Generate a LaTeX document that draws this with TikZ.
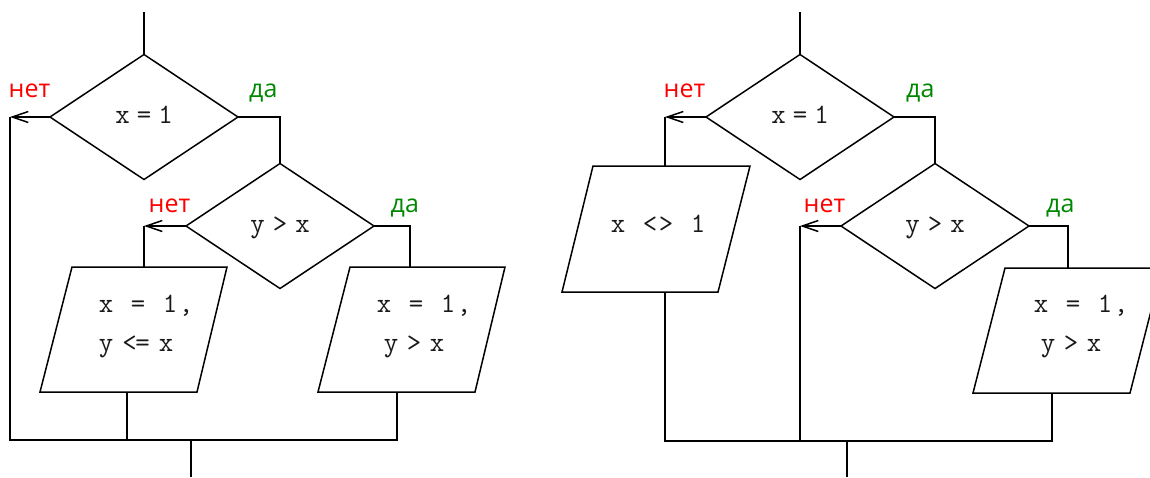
\documentclass[tikz,border=0pt]{standalone}
\usepackage{fontspec}
\newfontfamily\labfont{Open Sans}
\usetikzlibrary{arrows.meta,shapes.geometric}
\definecolor{nored}{RGB}{255,0,0}
\definecolor{yesgreen}{RGB}{0,135,0}
\newcommand\cb[1]{\makebox[16pt]{#1}}
\newcommand\gp[1]{\hspace{#1pt}}
\newcommand\monofont{\fontsize{28}{32}\selectfont\ttfamily\addfontfeatures{FakeBold=0.6}}
\tikzset{
  ln/.style={line width=1.5pt, black},
  dia/.style={ln, draw, shape=diamond, minimum width=188pt, minimum height=125pt,
    inner sep=0pt, outer sep=0pt, text height=12pt, text depth=0pt,
    font=\monofont, text=black!90},
  mtext/.style={anchor=base west, inner sep=0pt, outer sep=0pt, font=\monofont, text=black!90},
  notxt/.style={anchor=base west, inner sep=0pt, font=\labfont\fontsize{25}{28}\selectfont, text=nored},
  yestxt/.style={anchor=base west, inner sep=0pt, font=\labfont\fontsize{25}{28}\selectfont, text=yesgreen},
  arr/.style={ln, -{Straight Barb[length=16pt,width=11pt,line width=1.5pt]}},
}
\begin{document}
\begin{tikzpicture}[x=1pt,y=-1pt]
\useasboundingbox (0,0) rectangle (1150,477);

% ================= left diagram =================
\node[dia] (d1) at (144,117) {\cb{x}\gp{5.5}\cb{=}\gp{5.5}\cb{1}};
\node[dia] (d2) at (280,226) {\cb{y}\gp{6.5}\cb{>}\gp{6.5}\cb{x}};

\coordinate (s1) at (144,12);
\coordinate (c1) at (10,117);
\coordinate (c2) at (144,226);
\coordinate (p1t) at (144,267);
\coordinate (p2t) at (410,267);
\coordinate (p1b) at (127,392);
\coordinate (p2b) at (397,392);
\coordinate (bl1) at (10,440);
\coordinate (br1) at (397,440);
\coordinate (e1a) at (191,440);
\coordinate (e1b) at (191,477);

\draw[ln] (40,392) -- (197,392) -- (227,267) -- (72,267) -- cycle;
\draw[ln] (318,392) -- (475,392) -- (505,267) -- (350,267) -- cycle;

\node[mtext] (t1a) at (98,312) {\cb{x}\cb{}\cb{=}\cb{}\cb{1}\cb{,}};
\node[mtext] (t1b) at (98,351) {\cb{y}\gp{9}\makebox[13pt]{<}\makebox[13pt]{=}\gp{9}\cb{x}};
\node[mtext] (t2a) at (376,312) {\cb{x}\cb{}\cb{=}\cb{}\cb{1}\cb{,}};
\node[mtext] (t2b) at (383,351) {\cb{y}\gp{7}\cb{>}\gp{7}\cb{x}};

\draw[ln] (s1) -- (d1.north);
\draw[arr] (d1.west) -- (c1);
\draw[ln] (c1) -- (bl1) -- (br1) -- (p2b);
\draw[ln] (d1.east) -| (d2.north);
\draw[arr] (d2.west) -- (c2);
\draw[ln] (c2) -- (p1t);
\draw[ln] (d2.east) -| (p2t);
\draw[ln] (p1b) -- (p1b |- bl1);
\draw[ln] (e1a) -- (e1b);

\node[notxt] (n1) at (8.5,97) {нет};
\node[yestxt] (y1) at (249,97.5) {да};
\node[notxt] (n2) at (148.5,212) {нет};
\node[yestxt] (y2) at (390.5,212) {да};

% ================= right diagram =================
\node[dia] (d3) at (800,117) {\cb{x}\gp{5.5}\cb{=}\gp{5.5}\cb{1}};
\node[dia] (d4) at (935,226) {\cb{y}\gp{6.5}\cb{>}\gp{6.5}\cb{x}};

\coordinate (s2) at (800,12);
\coordinate (c3) at (665,117);
\coordinate (p3t) at (665,166);
\coordinate (p3b) at (665,292);
\coordinate (c4) at (800,226);
\coordinate (p4t) at (1068,268);
\coordinate (p4b) at (1052,393);
\coordinate (bl2) at (665,441);
\coordinate (br2) at (1052,441);
\coordinate (e2a) at (847,441);
\coordinate (e2b) at (847,477);

\draw[ln] (562,292) -- (718,292) -- (750,166) -- (593,166) -- cycle;
\draw[ln] (973,393) -- (1130,393) -- (1162,268) -- (1005,268) -- cycle;

\node[mtext] (t3) at (610,232) {\cb{x}\cb{}\cb{<}\cb{>}\cb{}\cb{1}};
\node[mtext] (t4a) at (1033,312) {\cb{x}\cb{}\cb{=}\cb{}\cb{1}\cb{,}};
\node[mtext] (t4b) at (1040,351) {\cb{y}\gp{7}\cb{>}\gp{7}\cb{x}};

\draw[ln] (s2) -- (d3.north);
\draw[arr] (d3.west) -- (c3);
\draw[ln] (c3) -- (p3t);
\draw[ln] (p3b) -- (bl2) -- (br2) -- (p4b);
\draw[ln] (d3.east) -| (d4.north);
\draw[arr] (d4.west) -- (c4);
\draw[ln] (c4) -- (c4 |- bl2);
\draw[ln] (d4.east) -| (p4t);
\draw[ln] (e2a) -- (e2b);

\node[notxt] (n3) at (663.5,97) {нет};
\node[yestxt] (y3) at (906,97.5) {да};
\node[notxt] (n4) at (803.5,212) {нет};
\node[yestxt] (y4) at (1046,212) {да};
\end{tikzpicture}
\end{document}
